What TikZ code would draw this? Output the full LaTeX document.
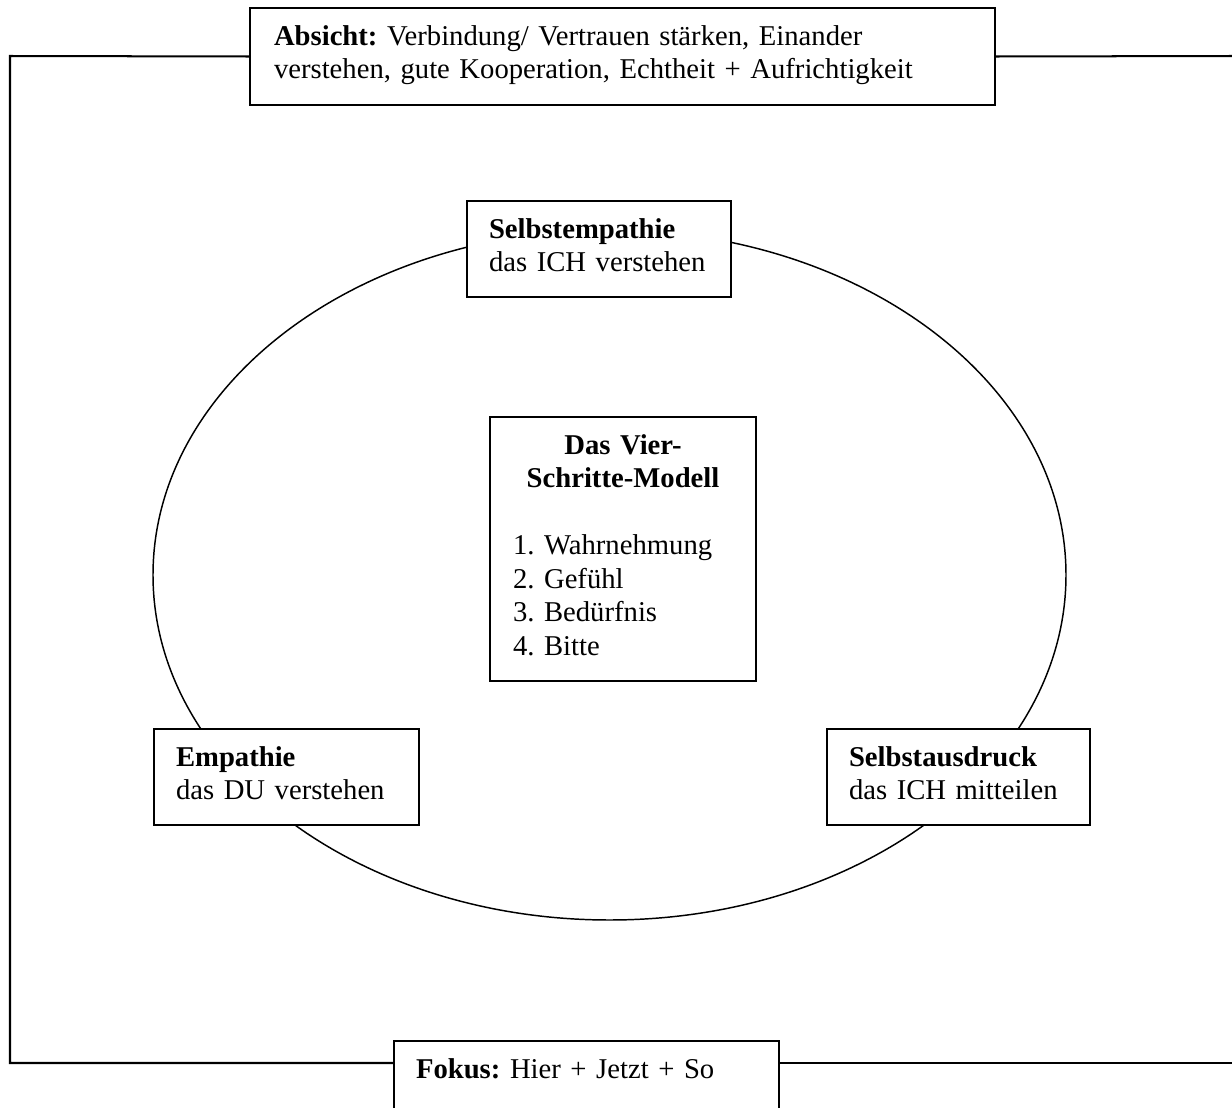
\documentclass[tikz,border=0pt]{standalone}
\usepackage{fontspec}
\setmainfont{Liberation Serif}
\newcommand{\pxu}{0.01434cm}
\newcommand{\kastenfont}{\fontsize{11.7}{13.7}\selectfont\frenchspacing\hyphenpenalty=10000\relax}

\begin{document}
\begin{tikzpicture}[x=0.01434cm, y=-0.01434cm, line width=0.82pt]
                \tikzstyle{kasten}=[draw, fill=white, anchor=north west, align=left, inner ysep=0pt, inner xsep=22*\pxu, text height=37*\pxu, font=\kastenfont]
                \tikzstyle{rahmen}=[line width=0.82pt]

                \useasboundingbox (0, 0) rectangle (1232, 1108);
                \clip (0, 0) rectangle (1232, 1108);

                \draw[line width=0.6pt] (609.5, 575) ellipse [x radius=456.5, y radius=345];

                \node[kasten, inner xsep=24*\pxu, text width=697*\pxu, text depth=60*\pxu] (absicht) at (249, 7)
                    {\textbf{Absicht:} Verbindung/ Vertrauen stärken, Einander\\verstehen, gute Kooperation, Echtheit + Aufrichtigkeit};
                \node[kasten, text width=220*\pxu, text depth=59*\pxu] (selbstempathie) at (466, 200)
                    {\textbf{Selbstempathie}\\das ICH verstehen};
                \node[kasten, text width=221*\pxu, text depth=59*\pxu] (empathie) at (153, 728)
                    {\textbf{Empathie}\\das DU verstehen};
                \node[kasten, text width=219*\pxu, text depth=59*\pxu] (selbstausdruck) at (826, 728)
                    {\textbf{Selbstausdruck}\\das ICH mitteilen};
                \node[kasten, inner xsep=23*\pxu, text width=220*\pxu, text depth=227*\pxu] (modell) at (489, 416)
                    {{\centering\textbf{Das Vier-}\\\textbf{Schritte-Modell}\par}\vspace{\baselineskip}1. Wahrnehmung\\2. Gefühl\\3. Bedürfnis\\4. Bitte};
                \node[kasten, text width=341*\pxu, text depth=90*\pxu] (fokus) at (393, 1040)
                    {\textbf{Fokus:} Hier + Jetzt + So};

                \coordinate (ol) at (10, 56);
                \coordinate (ul) at (10, 1063);
                \coordinate (or) at (1232, 56);
                \coordinate (ur) at (1232, 1063);

                \draw[rahmen] (absicht.west) -- (ol) -- (ul) -- (ul -| fokus.west);
                \draw[rahmen] (absicht.east) -- (or);
                \draw[rahmen] (ur -| fokus.east) -- (ur);
            \end{tikzpicture}
\end{document}
